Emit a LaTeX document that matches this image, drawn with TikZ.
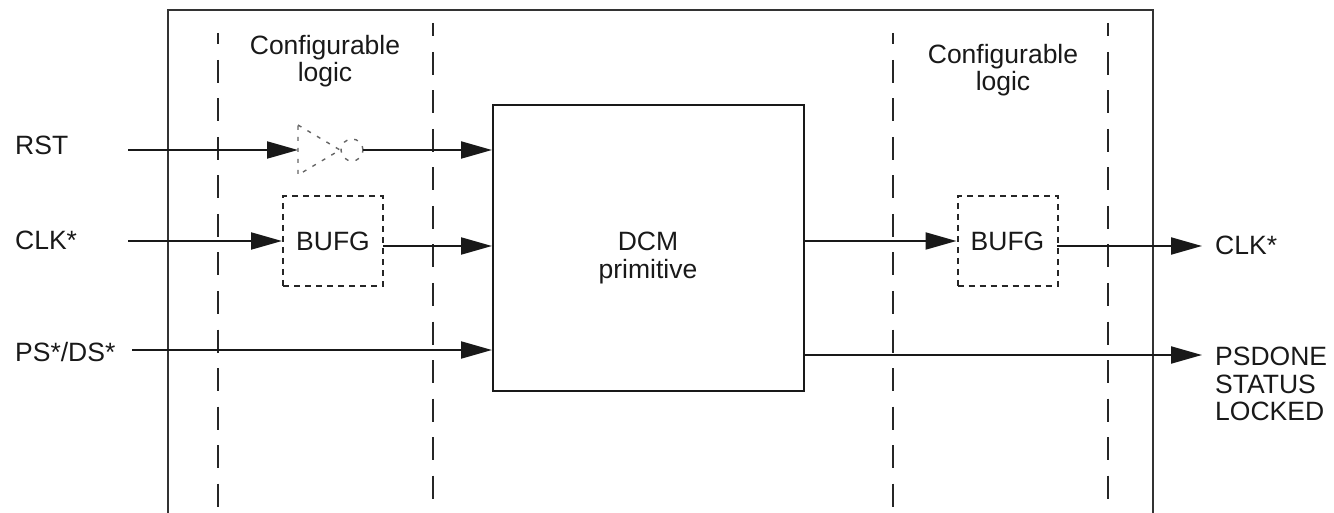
\documentclass[tikz,border=0pt]{standalone}
\usepackage{fontspec}
\setmainfont{Liberation Sans}
\usetikzlibrary{arrows.meta}
\begin{document}
\begin{tikzpicture}[x=1pt,y=-1pt,
  lbl/.style={inner sep=0pt, font=\fontsize{26.5}{27.5}\selectfont, text=black!90},
  wire/.style={line width=2pt, draw=black!90},
  arr/.style={wire, -{Triangle[length=31pt,width=17pt]}},
  sepline/.style={line width=2pt, draw=black!85},
  bufbox/.style={draw=black!85, line width=2pt, dash pattern=on 6pt off 5pt,
    minimum width=100pt, minimum height=90pt, inner sep=0pt,
    font=\fontsize{26.5}{27.5}\selectfont, text=black!90},
  invstyle/.style={draw=black!60, line width=1.4pt, dash pattern=on 4pt off 7pt}
]
\useasboundingbox (0,0) rectangle (1334,513);
% outer frame
\draw[line width=2.5pt, draw=black!80] (168,513) -- (168,10) -- (1153,10) -- (1153,513);
% dashed separators
\draw[sepline, dash pattern=on 23pt off 15.5pt, dash phase=11.5pt] (218,33) -- (218,513);
\draw[sepline, dash pattern=on 23pt off 15.5pt, dash phase=9.5pt] (433,23) -- (433,513);
\draw[sepline, dash pattern=on 23pt off 15.5pt, dash phase=11.5pt] (893,33) -- (893,513);
\draw[sepline, dash pattern=on 23pt off 15.5pt, dash phase=9.5pt] (1108,23) -- (1108,513);
% region labels
\node[lbl, align=center, anchor=north] (cfgL) at (325,35) {Configurable\\logic};
\node[lbl, align=center, anchor=north] (cfgR) at (1003,44) {Configurable\\logic};
% DCM
\node[draw=black!90, line width=2pt, minimum width=311pt, minimum height=286pt, inner sep=0pt] (dcm) at (648.5,248) {};
\node[lbl, align=center, anchor=north] (dcmtxt) at (648,232) {DCM\\primitive};
% BUFGs
\node[bufbox] (bufL) at (333,241) {BUFG};
\node[bufbox] (bufR) at (1007.5,241) {BUFG};
% inverter (dashed)
\draw[invstyle] (298,125) -- (340,150) -- (298,175) -- cycle;
\draw[invstyle] (352,150) circle (11pt);
\coordinate (invin) at (298,150);
\coordinate (invout) at (363,150);
% input labels
\node[lbl, anchor=base west] (rst) at (15,155) {RST};
\node[lbl, anchor=base west] (clkin) at (15,250) {CLK*};
\node[lbl, anchor=base west] (psin) at (15,361) {PS*/DS*};
% output labels
\node[lbl, anchor=base west] (clkout) at (1215,255) {CLK*};
\node[lbl, anchor=north west, align=left] (stat) at (1215,347) {PSDONE\\STATUS\\LOCKED};
% connector endpoints
\coordinate (rststart) at (128,150);
\coordinate (clkstart) at (128,241);
\coordinate (psstart) at (132,350);
\coordinate (bufLout) at (383,246);
\coordinate (bufRout) at (1057,246);
\coordinate (clkend) at (1202,246);
\coordinate (statend) at (1202,355);
% connectors
\draw[arr] (rststart) -- (invin);
\draw[arr] (invout) -- (invout -| dcm.west);
\draw[arr] (clkstart) -- (bufL.west);
\draw[arr] (bufLout) -- (bufLout -| dcm.west);
\draw[arr] (psstart) -- (psstart -| dcm.west);
\draw[arr] (dcm.east |- bufR.west) -- (bufR.west);
\draw[arr] (bufRout) -- (clkend);
\draw[arr] (dcm.east |- statend) -- (statend);
\end{tikzpicture}
\end{document}
